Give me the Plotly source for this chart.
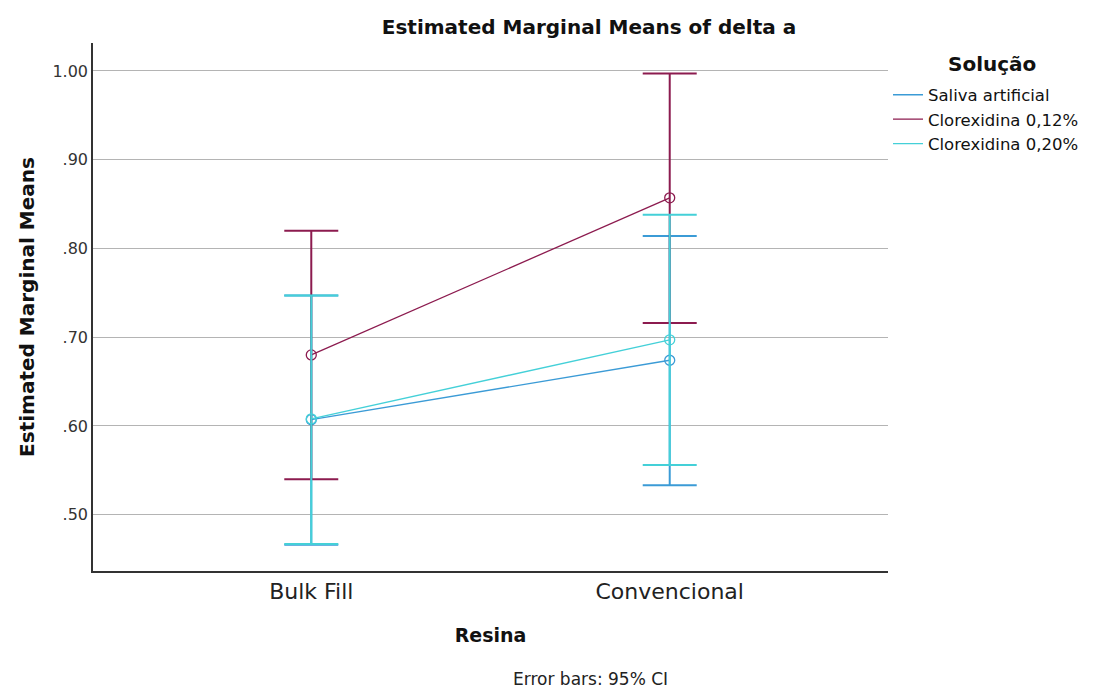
import plotly.graph_objects as go

# Estimated marginal means of delta a, by resin type and solution (95% CI)
resina = ["Bulk Fill", "Convencional"]
solucoes = ["Saliva artificial", "Clorexidina 0,12%", "Clorexidina 0,20%"]

saliva_mean = [0.607, 0.674]
saliva_low = [0.466, 0.533]
saliva_high = [0.747, 0.814]

clx012_mean = [0.680, 0.857]
clx012_low = [0.540, 0.716]
clx012_high = [0.820, 0.997]

clx020_mean = [0.608, 0.697]
clx020_low = [0.467, 0.556]
clx020_high = [0.747, 0.838]

colors = ["#3b9bd6", "#8c1b4f", "#44d0d8"]

y_ticks = [0.5, 0.6, 0.7, 0.8, 0.9, 1.0]
y_tick_text = [".50", ".60", ".70", ".80", ".90", "1.00"]

font_family = "DejaVu Sans"

fig = go.Figure()

series = [
    (solucoes[0], saliva_mean, saliva_low, saliva_high, colors[0]),
    (solucoes[1], clx012_mean, clx012_low, clx012_high, colors[1]),
    (solucoes[2], clx020_mean, clx020_low, clx020_high, colors[2]),
]

for name, mean, low, high, col in series:
    fig.add_trace(go.Scatter(
        x=[0, 1],
        y=mean,
        mode="lines+markers",
        name=name,
        showlegend=False,
        line=dict(color=col, width=1.3),
        marker=dict(symbol="circle-open", size=10, color=col, line=dict(width=1.3)),
        error_y=dict(
            type="data",
            symmetric=False,
            array=[h - m for h, m in zip(high, mean)],
            arrayminus=[m - l for m, l in zip(mean, low)],
            color=col,
            thickness=2,
            width=27,
        ),
    ))

# legend entries show plain line samples
for name, _, _, _, col in series:
    fig.add_trace(go.Scatter(
        x=[None],
        y=[None],
        mode="lines",
        name=name,
        line=dict(color=col, width=1.3),
    ))

fig.update_layout(
    width=1094,
    height=688,
    margin=dict(l=93, r=206, t=43, b=117, autoexpand=False),
    paper_bgcolor="white",
    plot_bgcolor="white",
    font=dict(family=font_family, color="#222222"),
    title=dict(
        text="<b>Estimated Marginal Means of delta a</b>",
        x=589 / 1094,
        xanchor="center",
        y=1 - 27 / 688,
        yanchor="middle",
        font=dict(size=20, color="#111111"),
    ),
    xaxis=dict(
        tickmode="array",
        tickvals=[0, 1],
        ticktext=resina,
        range=[-0.609, 1.609],
        showgrid=False,
        zeroline=False,
        showline=True,
        linecolor="#333333",
        linewidth=1.5,
        ticks="",
        tickfont=dict(size=22, color="#222222"),
        title=dict(text="<b>Resina</b>", font=dict(size=19, color="#111111"), standoff=26),
    ),
    yaxis=dict(
        tickmode="array",
        tickvals=y_ticks,
        ticktext=y_tick_text,
        range=[0.4365, 1.0315],
        showgrid=True,
        gridcolor="#b4b4b4",
        gridwidth=1,
        zeroline=False,
        showline=True,
        linecolor="#333333",
        linewidth=1.5,
        ticks="",
        tickfont=dict(size=16, color="#333333"),
        title=dict(text="<b>Estimated Marginal Means</b>", font=dict(size=20, color="#111111"), standoff=12),
    ),
    legend=dict(
        x=1.0,
        xanchor="left",
        y=1 - (77.5 - 43) / 528,
        yanchor="top",
        font=dict(size=16.5, color="#111111"),
        itemwidth=30,
        tracegroupgap=0,
        bgcolor="rgba(0,0,0,0)",
    ),
    showlegend=True,
)

# legend heading
fig.add_annotation(
    text="<b>Solução</b>",
    xref="paper",
    yref="paper",
    x=(992 - 93) / 795,
    y=1 - (64 - 43) / 528,
    xanchor="center",
    yanchor="middle",
    showarrow=False,
    font=dict(size=20, color="#111111"),
)

fig.add_annotation(
    text="Error bars: 95% CI",
    xref="paper",
    yref="paper",
    x=(590 - 93) / 795,
    y=-(679 - 571) / 528,
    xanchor="center",
    yanchor="middle",
    showarrow=False,
    font=dict(size=17, color="#222222"),
)

fig.write_html("out.html")
